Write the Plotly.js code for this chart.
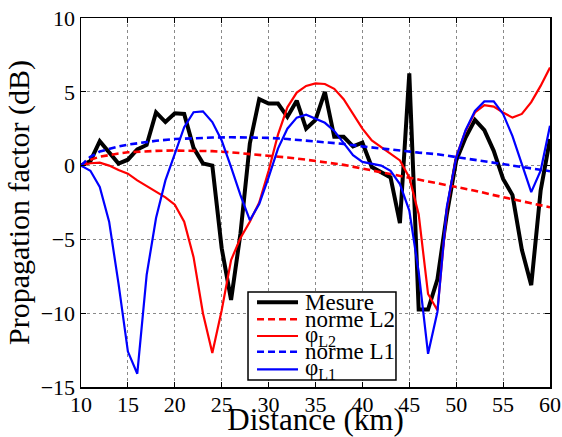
<!DOCTYPE html>
<html>
<head>
<meta charset="utf-8">
<script src="https://cdn.plot.ly/plotly-3.0.1.min.js"></script>
<style>
html,body{margin:0;padding:0;background:#fff;}
#chart{width:562px;height:437px;}
#warm{position:absolute;left:0;top:0;font-size:2px;color:#ffffff;line-height:2px;z-index:-1;}
</style>
</head>
<body>
<div id="warm" aria-hidden="true"><span style="font-family:'Liberation Serif'">a</span><span style="font-family:'DejaVu Serif'">a</span><span style="font-family:serif">a</span></div>
<div id="chart"></div>
<script>
// Distance (km) sample points
const distance = [10,11,12,13,14,15,16,17,18,19,20,21,22,23,24,25,26,27,28,29,30,31,32,33,34,35,36,37,38,39,40,41,42,43,44,45,46,47,48,49,50,51,52,53,54,55,56,57,58,59,60];

// Mesure (measured propagation factor, dB)
const mesure = [0,0.3,1.65,0.86,0.14,0.4,1.1,1.4,3.6,2.95,3.55,3.5,1.2,0.15,0.0,-5.6,-9.1,-4.6,1.5,4.5,4.2,4.2,3.3,4.4,2.5,3.1,5.0,1.95,1.95,1.3,1.55,-0.1,-0.45,-0.8,-3.9,6.25,-9.75,-9.75,-7.7,-3.3,0.35,1.9,3.1,2.4,1.0,-0.9,-2.0,-5.7,-8.1,-1.7,1.8];

// phi L2
const phiL2 = [0,0.16,0.2,0.0,-0.3,-0.55,-1.0,-1.4,-1.8,-2.15,-2.65,-3.8,-6.2,-10.0,-12.7,-9.8,-6.4,-4.9,-3.8,-2.5,-0.35,2.1,3.95,4.95,5.4,5.57,5.53,5.2,4.5,3.5,2.5,1.7,1.25,0.8,0.35,-0.8,-3.3,-8.7,-9.8,-3.0,0.6,2.35,3.6,4.1,4.0,3.6,3.25,3.5,4.3,5.4,6.65];

// phi L1
const phiL1 = [0,-0.35,-1.45,-3.8,-8.0,-12.6,-14.1,-7.4,-3.55,-1.0,0.8,2.6,3.62,3.68,2.95,1.7,-0.1,-2.0,-3.7,-2.6,-0.8,1.15,2.5,3.25,3.45,3.2,2.9,2.35,1.5,0.7,0.25,0.1,0.0,-0.35,-1.25,-3.05,-7.2,-12.75,-9.9,-2.8,0.55,2.4,3.7,4.35,4.35,3.5,2.0,0.1,-1.8,-0.35,2.7];

// norme L2 / norme L1 (smooth curves)
const normeDist = [10,11,12,13,14,15,16,18,20,22,24,26,28,30,32,34,36,38,40,42,44,46,48,50,52,54,56,58,60];
const normeL2 = [0,0.4,0.6,0.72,0.82,0.9,0.95,1.0,1.02,1.02,0.98,0.9,0.8,0.68,0.55,0.4,0.25,0.05,-0.2,-0.45,-0.7,-0.95,-1.15,-1.42,-1.7,-2.0,-2.3,-2.55,-2.82];
const normeL1 = [0,0.6,0.95,1.15,1.3,1.42,1.52,1.68,1.8,1.86,1.9,1.92,1.92,1.88,1.8,1.7,1.6,1.47,1.3,1.15,1.0,0.88,0.77,0.58,0.42,0.2,0.02,-0.2,-0.38];

// legend labels
const seriesNames = ['Mesure','norme L2','φ<sub>L2</sub>','norme L1','φ<sub>L1</sub>'];
const seriesColors = ['#000000','#ff0000','#ff0000','#0000ff','#0000ff'];
const seriesDash = ['solid','7px,4px','solid','7px,4px','solid'];
const seriesWidth = [4,2.6,2.2,2.6,2.2];

const xTicks = [10,15,20,25,30,35,40,45,50,55,60];
const yTicks = [-15,-10,-5,0,5,10];

const FONT = '"Liberation Serif", "DejaVu Serif", serif';

const traceData = [
  {x: distance, y: mesure},
  {x: normeDist, y: normeL2},
  {x: distance, y: phiL2},
  {x: normeDist, y: normeL1},
  {x: distance, y: phiL1}
];

const traces = traceData.map((d, i) => ({
  x: d.x, y: d.y, type: 'scatter', mode: 'lines', name: seriesNames[i],
  line: {color: seriesColors[i], width: seriesWidth[i], dash: seriesDash[i]},
  showlegend: false, hoverinfo: 'skip'
}));

// custom legend (matplotlib-style, opaque box)
const box = {x0: 0.3561, x1: 0.6716, y0: 0.019, y1: 0.2575};
const rowY = [0.2295, 0.1835, 0.1382, 0.0957, 0.048];
const sampleX = [0.3753, 0.4627];
const textX = 0.4733;

const shapes = [{
  type: 'rect', xref: 'paper', yref: 'paper', layer: 'above',
  x0: box.x0, x1: box.x1, y0: box.y0, y1: box.y1,
  fillcolor: '#ffffff', line: {color: '#000000', width: 1.5}
}];
const annotations = [];
seriesNames.forEach((nm, i) => {
  shapes.push({
    type: 'line', xref: 'paper', yref: 'paper', layer: 'above',
    x0: sampleX[0], x1: sampleX[1], y0: rowY[i], y1: rowY[i],
    line: {color: seriesColors[i], width: seriesWidth[i], dash: seriesDash[i]}
  });
  annotations.push({
    xref: 'paper', yref: 'paper', x: textX, y: rowY[i],
    xanchor: 'left', yanchor: 'middle', showarrow: false,
    text: nm, font: {family: FONT, size: 23}
  });
});

const axisCommon = {
  showline: true, linecolor: '#000000', linewidth: 1.5, mirror: 'ticks',
  ticks: 'inside', ticklen: 5, tickwidth: 1, tickcolor: '#000000',
  showgrid: true, gridcolor: '#8a8a8a', gridwidth: 1, griddash: 'dot',
  zeroline: false, tickfont: {family: FONT, size: 22},
  ticklabeloverflow: 'allow'
};

const layout = {
  width: 562, height: 437,
  margin: {l: 81, r: 12, t: 18, b: 50},
  paper_bgcolor: '#ffffff', plot_bgcolor: '#ffffff',
  font: {family: FONT, color: '#000000'},
  showlegend: false,
  xaxis: Object.assign({}, axisCommon, {
    range: [10, 60], tickvals: xTicks, ticktext: xTicks.map(String),
    ticklabelstandoff: -3,
    title: {text: 'Distance (km)', font: {family: FONT, size: 31}, standoff: 0}
  }),
  yaxis: Object.assign({}, axisCommon, {
    range: [-15, 10], tickvals: yTicks, ticktext: yTicks.map(v => v < 0 ? '\u2212' + Math.abs(v) : String(v)),
    title: {text: 'Propagation factor (dB)', font: {family: FONT, size: 30}, standoff: 2}
  }),
  shapes: shapes,
  annotations: annotations
};

Plotly.newPlot('chart', traces, layout, {displayModeBar: false, staticPlot: true}).then(() => {
  if (document.fonts && document.fonts.ready) {
    document.fonts.ready.then(() => Plotly.relayout('chart', {}));
  }
});
</script>
</body>
</html>
